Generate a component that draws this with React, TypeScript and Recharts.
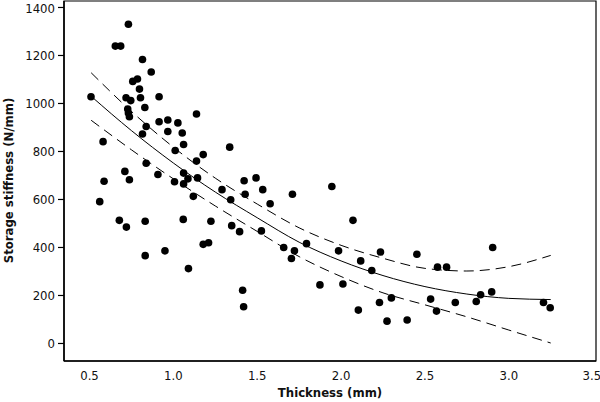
import React from 'react';
import { ComposedChart, Label, Line, ReferenceArea, Scatter, XAxis, YAxis } from 'recharts';

// measured samples: thickness (mm) vs storage stiffness (N/mm)
const thickness = [
  0.732, 0.654, 0.686, 0.816, 0.868, 0.758, 0.786, 0.798, 0.509, 0.718,
  0.746, 0.804, 0.915, 0.83, 0.728, 0.732, 0.738, 0.915, 0.967, 1.027,
  0.838, 0.816, 0.967, 1.053, 1.061, 1.011, 0.581, 0.838, 0.711, 0.908,
  1.061, 0.587, 0.738, 1.007, 1.061, 1.087, 0.561, 0.678, 0.72, 0.832,
  1.059, 0.832, 0.95, 1.09, 1.138, 1.336, 1.178, 1.138, 1.144, 1.119,
  1.422, 1.493, 1.428, 1.533, 1.29, 1.342, 1.577, 1.71, 1.224, 1.348,
  1.395, 1.525, 1.178, 1.21, 1.658, 1.722, 1.704, 1.794, 1.413, 1.419,
  1.945, 2.071, 1.985, 2.235, 2.452, 2.117, 2.183, 2.575, 2.629, 1.874,
  2.011, 2.3, 2.229, 2.534, 2.569, 2.103, 2.274, 2.394, 2.904, 2.898,
  2.832, 2.806, 2.681, 3.207, 3.247,
];
const stiffness = [
  1330, 1239, 1239, 1183, 1131, 1092, 1102, 1060, 1028, 1024,
  1012, 1024, 1028, 983, 977, 960, 945, 924, 931, 919,
  904, 873, 883, 877, 829, 804, 841, 751, 717, 704,
  710, 676, 682, 674, 665, 686, 591, 513, 485, 509,
  517, 366, 386, 312, 956, 818, 787, 760, 690, 613,
  678, 690, 622, 641, 641, 599, 582, 622, 509, 491,
  466, 469, 413, 420, 400, 386, 354, 416, 222, 153,
  654, 513, 386, 381, 372, 344, 304, 318, 318, 244,
  248, 190, 171, 185, 135, 139, 93, 98, 400, 215,
  203, 175, 171, 171, 149,
];

// fitted curve and its band
const fitX = [0.51, 0.75, 1.0, 1.25, 1.5, 1.75, 2.0, 2.25, 2.5, 2.75, 3.0, 3.25];
const fitMid = [1030, 887, 752, 631, 524, 422, 344, 283, 237, 206, 188, 183];
const fitUpper = [1128, 967, 818, 689, 581, 482, 409, 355, 313, 302, 320, 367];
const fitLower = [930, 807, 686, 573, 467, 362, 279, 211, 161, 111, 56, 2];

const xTicks = [0.5, 1.0, 1.5, 2.0, 2.5, 3.0, 3.5];
const yTicks = [0, 200, 400, 600, 800, 1000, 1200, 1400];

const X_DOMAIN: [number, number] = [0.348, 3.52];
const Y_DOMAIN: [number, number] = [-73, 1427];

const FONT = "'DejaVu Sans Condensed', 'DejaVu Sans', sans-serif";

const points = thickness.map((x, i) => ({ x, y: stiffness[i] }));
const fitData = fitX.map((x, i) => ({ x, mid: fitMid[i], upper: fitUpper[i], lower: fitLower[i] }));

const Dot = (props: any) => <circle cx={props.cx} cy={props.cy} r={3.8} fill="#000" />;

export default function App() {
  return (
    <div style={{ position: 'absolute', left: 0, top: 0, width: 600, height: 402, background: '#fff' }}>
      <ComposedChart width={600} height={402} margin={{ top: 1, right: 4, bottom: 0, left: 0 }}>
        <XAxis
          type="number"
          dataKey="x"
          domain={X_DOMAIN}
          ticks={xTicks}
          allowDataOverflow
          height={41}
          tickLine={false}
          tickMargin={4}
          tickFormatter={(v: number) => v.toFixed(1)}
          tick={{ fontSize: 13, fill: '#111', fontFamily: FONT }}
          axisLine={{ stroke: '#000', strokeWidth: 1.5 }}
        >
          <Label
            content={() => (
              <text x={330} y={397} textAnchor="middle" fontSize={13} fontWeight="bold" fontFamily={FONT} fill="#111">
                Thickness (mm)
              </text>
            )}
          />
        </XAxis>
        <YAxis
          type="number"
          domain={Y_DOMAIN}
          ticks={yTicks}
          allowDataOverflow
          width={64}
          tickSize={6}
          tickMargin={3}
          tick={{ fontSize: 13, fill: '#111', fontFamily: FONT }}
          tickLine={{ stroke: '#000', strokeWidth: 1.2 }}
          axisLine={{ stroke: '#000', strokeWidth: 1.5 }}
        >
          <Label
            content={() => (
              <text
                transform="translate(13,180.5) rotate(-90)"
                textAnchor="middle"
                fontSize={13}
                fontWeight="bold"
                fontFamily={FONT}
                fill="#111"
              >
                Storage stiffness (N/mm)
              </text>
            )}
          />
        </YAxis>
        <ReferenceArea
          x1={X_DOMAIN[0]}
          x2={X_DOMAIN[1]}
          y1={Y_DOMAIN[0]}
          y2={Y_DOMAIN[1]}
          fill="none"
          fillOpacity={0}
          stroke="#000"
          strokeWidth={1.2}
        />
        <Line data={fitData} dataKey="upper" type="monotone" stroke="#000" strokeWidth={1} strokeDasharray="10 6" dot={false} isAnimationActive={false} />
        <Line data={fitData} dataKey="lower" type="monotone" stroke="#000" strokeWidth={1} strokeDasharray="10 6" dot={false} isAnimationActive={false} />
        <Line data={fitData} dataKey="mid" type="monotone" stroke="#000" strokeWidth={1} dot={false} isAnimationActive={false} />
        <Scatter data={points} dataKey="y" shape={Dot} isAnimationActive={false} />
      </ComposedChart>
    </div>
  );
}
